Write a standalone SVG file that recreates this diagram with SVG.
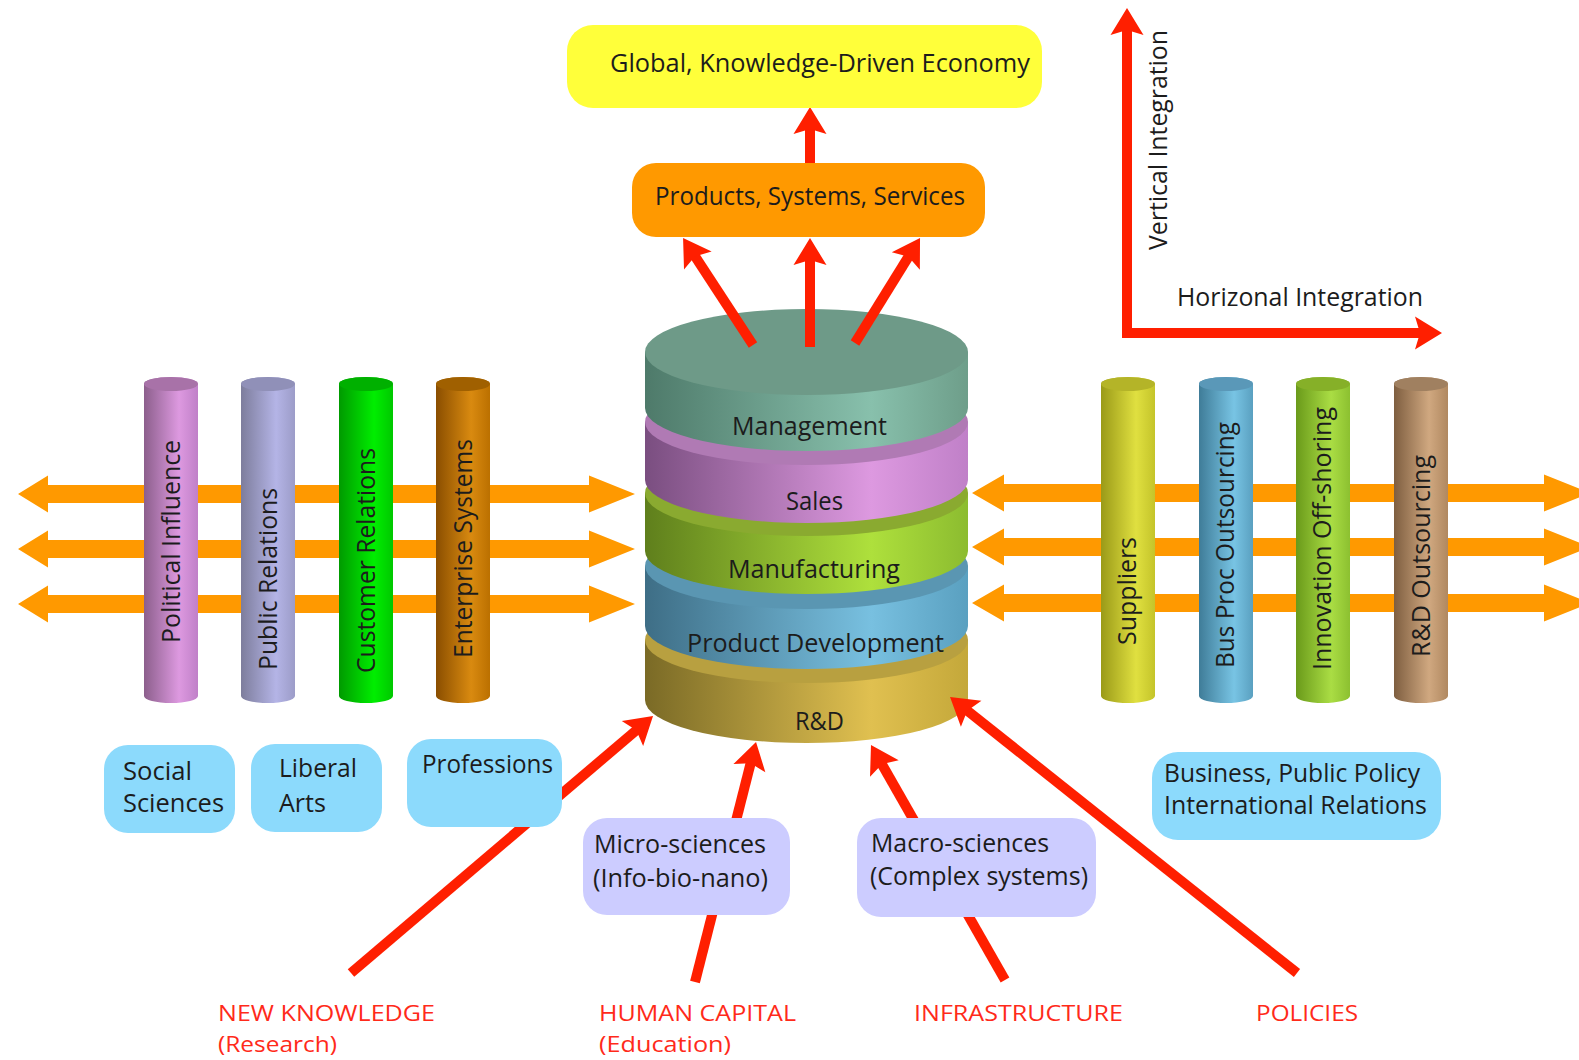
<svg xmlns="http://www.w3.org/2000/svg" width="1579" height="1060" viewBox="0 0 1579 1060">
<style>
text{font-family:"Open Sans","DejaVu Sans",sans-serif;fill:#1c1c1c;font-size:25px}
.red{fill:#ff2a1a;font-size:22px}
.rl{stroke:#ff1f00;stroke-width:10;fill:none}
.oa{fill:#ff9900}
.blue{fill:#8cdafc}
.lav{fill:#ccccff}
</style>
<defs>
<marker id="ah" markerUnits="userSpaceOnUse" markerWidth="40" markerHeight="40" viewBox="-10 -20 40 40" refX="0" refY="0" orient="auto" overflow="visible">
<path d="M20,0 L-7,-16.5 L-2,0 L-7,16.5 Z" fill="#ff1f00"/>
</marker>
<linearGradient id="gMg" x1="0" x2="1" y1="0" y2="0"><stop offset="0" stop-color="#4e7a6a"/><stop offset="0.7" stop-color="#88c0ac"/><stop offset="1" stop-color="#6e9e8a"/></linearGradient>
<linearGradient id="gSa" x1="0" x2="1" y1="0" y2="0"><stop offset="0" stop-color="#7a4e80"/><stop offset="0.7" stop-color="#dd99e0"/><stop offset="1" stop-color="#c080c8"/></linearGradient>
<linearGradient id="gMf" x1="0" x2="1" y1="0" y2="0"><stop offset="0" stop-color="#5f7f1c"/><stop offset="0.7" stop-color="#aee03c"/><stop offset="1" stop-color="#8cbc30"/></linearGradient>
<linearGradient id="gPd" x1="0" x2="1" y1="0" y2="0"><stop offset="0" stop-color="#3e6e86"/><stop offset="0.7" stop-color="#78c0e0"/><stop offset="1" stop-color="#5aa0c0"/></linearGradient>
<linearGradient id="gRd" x1="0" x2="1" y1="0" y2="0"><stop offset="0" stop-color="#7a6a26"/><stop offset="0.7" stop-color="#e0c050"/><stop offset="1" stop-color="#c4a83a"/></linearGradient>
<linearGradient id="cPi" x1="0" x2="1" y1="0" y2="0"><stop offset="0" stop-color="#8c5f8c"/><stop offset="0.65" stop-color="#dd99e0"/><stop offset="1" stop-color="#c080c8"/></linearGradient>
<linearGradient id="cPr" x1="0" x2="1" y1="0" y2="0"><stop offset="0" stop-color="#7d7d9c"/><stop offset="0.65" stop-color="#b4b4e6"/><stop offset="1" stop-color="#9c9cc8"/></linearGradient>
<linearGradient id="cCr" x1="0" x2="1" y1="0" y2="0"><stop offset="0" stop-color="#009a00"/><stop offset="0.65" stop-color="#00ee00"/><stop offset="1" stop-color="#00c800"/></linearGradient>
<linearGradient id="cEs" x1="0" x2="1" y1="0" y2="0"><stop offset="0" stop-color="#8a4e00"/><stop offset="0.65" stop-color="#d98a10"/><stop offset="1" stop-color="#bb7000"/></linearGradient>
<linearGradient id="cSu" x1="0" x2="1" y1="0" y2="0"><stop offset="0" stop-color="#9a9a18"/><stop offset="0.65" stop-color="#e0e040"/><stop offset="1" stop-color="#c4c42a"/></linearGradient>
<linearGradient id="cBp" x1="0" x2="1" y1="0" y2="0"><stop offset="0" stop-color="#3f7c98"/><stop offset="0.65" stop-color="#78c4e4"/><stop offset="1" stop-color="#5aa0c0"/></linearGradient>
<linearGradient id="cIo" x1="0" x2="1" y1="0" y2="0"><stop offset="0" stop-color="#6a9a1a"/><stop offset="0.65" stop-color="#aadd44"/><stop offset="1" stop-color="#8cc030"/></linearGradient>
<linearGradient id="cRo" x1="0" x2="1" y1="0" y2="0"><stop offset="0" stop-color="#7e5e40"/><stop offset="0.65" stop-color="#d0a880"/><stop offset="1" stop-color="#b08860"/></linearGradient>
</defs>

<!-- central stack -->
<g id="stack">
<g id="rd">
<path d="M645,640 L645,700 A161.5,43 0 0 0 968,700 L968,640 Z" fill="url(#gRd)"/>
<ellipse cx="806.5" cy="640" rx="161.5" ry="43" fill="#b8a040"/>
<text x="819.5" y="730" text-anchor="middle" textLength="49" lengthAdjust="spacingAndGlyphs">R&amp;D</text>
</g>
<g id="pd">
<path d="M645,566 L645,626 A161.5,43 0 0 0 968,626 L968,566 Z" fill="url(#gPd)"/>
<ellipse cx="806.5" cy="566" rx="161.5" ry="43" fill="#5a96b2"/>
<text x="815.5" y="652" text-anchor="middle" textLength="257" lengthAdjust="spacingAndGlyphs">Product Development</text>
</g>
<g id="mf">
<path d="M645,493 L645,551 A161.5,43 0 0 0 968,551 L968,493 Z" fill="url(#gMf)"/>
<ellipse cx="806.5" cy="493" rx="161.5" ry="43" fill="#8aaa30"/>
<text x="814" y="578" text-anchor="middle" textLength="172" lengthAdjust="spacingAndGlyphs">Manufacturing</text>
</g>
<g id="sa">
<path d="M645,422 L645,480 A161.5,43 0 0 0 968,480 L968,422 Z" fill="url(#gSa)"/>
<ellipse cx="806.5" cy="422" rx="161.5" ry="43" fill="#b07ab4"/>
<text x="814.5" y="510" text-anchor="middle" textLength="57" lengthAdjust="spacingAndGlyphs">Sales</text>
</g>
<g id="mg">
<path d="M645,352 L645,408 A161.5,43 0 0 0 968,408 L968,352 Z" fill="url(#gMg)"/>
<ellipse cx="806.5" cy="352" rx="161.5" ry="43" fill="#6e9a88"/>
<text x="809.5" y="435" text-anchor="middle" textLength="155" lengthAdjust="spacingAndGlyphs">Management</text>
</g>
</g>

<!-- connectors -->
<g id="connectors">
<path class="oa" d="M18,494 L48,475.5 L48,485 L589,485 L589,475.5 L635,494 L589,512.5 L589,503 L48,503 L48,512.5 Z"/>
<path class="oa" d="M18,549 L48,530.5 L48,540 L589,540 L589,530.5 L635,549 L589,567.5 L589,558 L48,558 L48,567.5 Z"/>
<path class="oa" d="M18,604 L48,585.5 L48,595 L589,595 L589,585.5 L635,604 L589,622.5 L589,613 L48,613 L48,622.5 Z"/>
<path class="oa" d="M972,493 L1004,474.5 L1004,484 L1544,484 L1544,474.5 L1590,493 L1544,511.5 L1544,502 L1004,502 L1004,511.5 Z"/>
<path class="oa" d="M972,547 L1004,528.5 L1004,538 L1544,538 L1544,528.5 L1590,547 L1544,565.5 L1544,556 L1004,556 L1004,565.5 Z"/>
<path class="oa" d="M972,603 L1004,584.5 L1004,594 L1544,594 L1544,584.5 L1590,603 L1544,621.5 L1544,612 L1004,612 L1004,621.5 Z"/>
<line class="rl" x1="810" y1="163" x2="810" y2="127" marker-end="url(#ah)"/>
<line class="rl" x1="753" y1="345" x2="694" y2="254.7" marker-end="url(#ah)"/>
<line class="rl" x1="810" y1="347" x2="810" y2="258" marker-end="url(#ah)"/>
<line class="rl" x1="855" y1="343" x2="909.5" y2="255" marker-end="url(#ah)"/>
<line class="rl" x1="1127" y1="338" x2="1127" y2="28" marker-end="url(#ah)"/>
<line class="rl" x1="1122" y1="333" x2="1422" y2="333" marker-end="url(#ah)"/>
<line class="rl" x1="351" y1="973" x2="637.8" y2="729" marker-end="url(#ah)"/>
<line class="rl" x1="695" y1="982" x2="751.1" y2="761.4" marker-end="url(#ah)"/>
<line class="rl" x1="1005" y1="980" x2="880.9" y2="762.4" marker-end="url(#ah)"/>
<line class="rl" x1="1297" y1="973" x2="965.7" y2="709.4" marker-end="url(#ah)"/>
</g>

<!-- top boxes -->
<g id="economy">
<rect x="567" y="25" width="475" height="83" rx="26" fill="#ffff3a"/>
<text x="610" y="72" textLength="420" lengthAdjust="spacingAndGlyphs">Global, Knowledge-Driven Economy</text>
</g>
<g id="products">
<rect x="632" y="163" width="353" height="74" rx="24" fill="#ff9900"/>
<text x="655" y="205" textLength="310" lengthAdjust="spacingAndGlyphs">Products, Systems, Services</text>
</g>

<!-- axis labels -->
<g id="axis-labels">
<text transform="translate(1167,250) rotate(-90)" textLength="220" lengthAdjust="spacingAndGlyphs">Vertical Integration</text>
<text x="1177" y="306" textLength="246" lengthAdjust="spacingAndGlyphs">Horizonal Integration</text>
</g>

<!-- left cylinders -->
<g id="political-influence">
<path d="M144,384 A27,7 0 0 1 198,384 L198,696 A27,7 0 0 1 144,696 Z" fill="url(#cPi)"/>
<ellipse cx="171" cy="384" rx="27" ry="7" fill="#a872a8"/>
<text transform="translate(180,643) rotate(-90)" textLength="203" lengthAdjust="spacingAndGlyphs">Political Influence</text>
</g>
<g id="public-relations">
<path d="M241,384 A27,7 0 0 1 295,384 L295,696 A27,7 0 0 1 241,696 Z" fill="url(#cPr)"/>
<ellipse cx="268" cy="384" rx="27" ry="7" fill="#9090b8"/>
<text transform="translate(277,670) rotate(-90)" textLength="182" lengthAdjust="spacingAndGlyphs">Public Relations</text>
</g>
<g id="customer-relations">
<path d="M339,384 A27,7 0 0 1 393,384 L393,696 A27,7 0 0 1 339,696 Z" fill="url(#cCr)"/>
<ellipse cx="366" cy="384" rx="27" ry="7" fill="#00b000"/>
<text transform="translate(375,673) rotate(-90)" textLength="225" lengthAdjust="spacingAndGlyphs">Customer Relations</text>
</g>
<g id="enterprise-systems">
<path d="M436,384 A27,7 0 0 1 490,384 L490,696 A27,7 0 0 1 436,696 Z" fill="url(#cEs)"/>
<ellipse cx="463" cy="384" rx="27" ry="7" fill="#a06000"/>
<text transform="translate(472,658) rotate(-90)" textLength="219" lengthAdjust="spacingAndGlyphs">Enterprise Systems</text>
</g>

<!-- right cylinders -->
<g id="suppliers">
<path d="M1101,384 A27,7 0 0 1 1155,384 L1155,696 A27,7 0 0 1 1101,696 Z" fill="url(#cSu)"/>
<ellipse cx="1128" cy="384" rx="27" ry="7" fill="#b4b428"/>
<text transform="translate(1136,645) rotate(-90)" textLength="108" lengthAdjust="spacingAndGlyphs">Suppliers</text>
</g>
<g id="bus-proc">
<path d="M1199,384 A27,7 0 0 1 1253,384 L1253,696 A27,7 0 0 1 1199,696 Z" fill="url(#cBp)"/>
<ellipse cx="1226" cy="384" rx="27" ry="7" fill="#5a98b8"/>
<text transform="translate(1234,668) rotate(-90)" textLength="246" lengthAdjust="spacingAndGlyphs">Bus Proc Outsourcing</text>
</g>
<g id="innovation">
<path d="M1296,384 A27,7 0 0 1 1350,384 L1350,696 A27,7 0 0 1 1296,696 Z" fill="url(#cIo)"/>
<ellipse cx="1323" cy="384" rx="27" ry="7" fill="#86b028"/>
<text transform="translate(1331,670) rotate(-90)" textLength="263" lengthAdjust="spacingAndGlyphs">Innovation Off-shoring</text>
</g>
<g id="rd-outsourcing">
<path d="M1394,384 A27,7 0 0 1 1448,384 L1448,696 A27,7 0 0 1 1394,696 Z" fill="url(#cRo)"/>
<ellipse cx="1421" cy="384" rx="27" ry="7" fill="#a08060"/>
<text transform="translate(1430,657) rotate(-90)" textLength="202" lengthAdjust="spacingAndGlyphs">R&amp;D Outsourcing</text>
</g>

<!-- bottom boxes -->
<g id="social-sciences">
<rect class="blue" x="104" y="745" width="131" height="88" rx="24"/>
<text x="123" y="780" textLength="69" lengthAdjust="spacingAndGlyphs">Social</text>
<text x="123" y="812" textLength="101" lengthAdjust="spacingAndGlyphs">Sciences</text>
</g>
<g id="liberal-arts">
<rect class="blue" x="251" y="744" width="131" height="88" rx="24"/>
<text x="279" y="777" textLength="78" lengthAdjust="spacingAndGlyphs">Liberal</text>
<text x="279" y="812" textLength="47" lengthAdjust="spacingAndGlyphs">Arts</text>
</g>
<g id="professions">
<rect class="blue" x="407" y="739" width="155" height="88" rx="24"/>
<text x="422" y="773" textLength="131" lengthAdjust="spacingAndGlyphs">Professions</text>
</g>
<g id="micro-sciences">
<rect class="lav" x="583" y="818" width="207" height="97" rx="24"/>
<text x="594" y="853" textLength="172" lengthAdjust="spacingAndGlyphs">Micro-sciences</text>
<text x="593" y="887" textLength="175" lengthAdjust="spacingAndGlyphs">(Info-bio-nano)</text>
</g>
<g id="macro-sciences">
<rect class="lav" x="857" y="818" width="239" height="99" rx="24"/>
<text x="871" y="852" textLength="178" lengthAdjust="spacingAndGlyphs">Macro-sciences</text>
<text x="870" y="885" textLength="218" lengthAdjust="spacingAndGlyphs">(Complex systems)</text>
</g>
<g id="business">
<rect class="blue" x="1152" y="752" width="289" height="88" rx="26"/>
<text x="1164" y="782" textLength="256" lengthAdjust="spacingAndGlyphs">Business, Public Policy</text>
<text x="1164" y="814" textLength="263" lengthAdjust="spacingAndGlyphs">International Relations</text>
</g>

<!-- input labels -->
<g id="new-knowledge">
<text class="red" x="218" y="1021" textLength="217" lengthAdjust="spacingAndGlyphs">NEW KNOWLEDGE</text>
<text class="red" x="218" y="1052" textLength="119" lengthAdjust="spacingAndGlyphs">(Research)</text>
</g>
<g id="human-capital">
<text class="red" x="599" y="1021" textLength="197" lengthAdjust="spacingAndGlyphs">HUMAN CAPITAL</text>
<text class="red" x="599" y="1052" textLength="132" lengthAdjust="spacingAndGlyphs">(Education)</text>
</g>
<g id="infrastructure">
<text class="red" x="914" y="1021" textLength="209" lengthAdjust="spacingAndGlyphs">INFRASTRUCTURE</text>
</g>
<g id="policies">
<text class="red" x="1256" y="1021" textLength="102" lengthAdjust="spacingAndGlyphs">POLICIES</text>
</g>
</svg>
